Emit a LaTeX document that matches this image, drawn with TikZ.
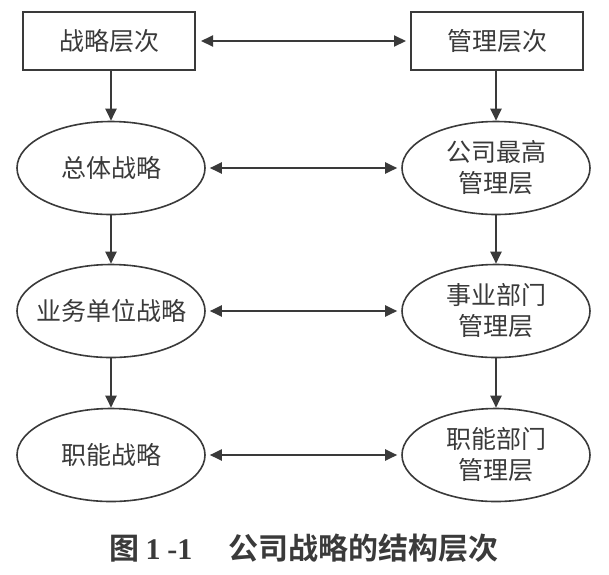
\documentclass[tikz,border=0pt]{standalone}
\usepackage{fontspec}
\setmainfont{Liberation Serif}
\newfontfamily\cjk{Noto Sans CJK SC}
\newfontfamily\cjkb{Noto Sans CJK SC Bold}
\usetikzlibrary{shapes.geometric,arrows.meta}
\definecolor{ink}{HTML}{3A3A3A}
\begin{document}
\begin{tikzpicture}[x=1pt,y=-1pt,
  every node/.style={text=ink,font=\cjk\fontsize{25}{31}\selectfont,align=center},
  boxnode/.style={draw=ink,line width=2pt,minimum width=172pt,minimum height=58pt,inner sep=0pt},
  ellnode/.style={ellipse,draw=ink,line width=1.6pt,minimum width=188pt,minimum height=93pt,inner sep=0pt},
  arr/.style={draw=ink,line width=2pt,-{Triangle[length=12pt,width=11pt]}},
  darr/.style={draw=ink,line width=2pt,{Triangle[length=12pt,width=11pt]}-{Triangle[length=12pt,width=11pt]}}]
\useasboundingbox (0,0) rectangle (609,574);
\fill[white] (0,0) rectangle (609,574);
\node[boxnode] (b1) at (109,41) {战略层次};
\node[boxnode] (b2) at (497,41) {管理层次};
\node[ellnode] (l1) at (111,168) {总体战略};
\node[ellnode] (r1) at (496,168) {公司最高\\管理层};
\node[ellnode] (l2) at (111,311) {\makebox[0pt][c]{业务单位战略}};
\node[ellnode] (r2) at (496,311) {事业部门\\管理层};
\node[ellnode] (l3) at (111,455) {职能战略};
\node[ellnode] (r3) at (496,455) {职能部门\\管理层};
\draw[darr] ([xshift=5pt]b1.east) -- ([xshift=-4pt]b2.west);
\draw[darr] ([xshift=4pt]l1.east) -- ([xshift=-4pt]r1.west);
\draw[darr] ([xshift=4pt]l2.east) -- ([xshift=-4pt]r2.west);
\draw[darr] ([xshift=4pt]l3.east) -- ([xshift=-4pt]r3.west);
\draw[arr] (b1.south -| l1.north) -- (l1.north);
\draw[arr] (b2.south -| r1.north) -- (r1.north);
\draw[arr] (l1.south) -- (l2.north);
\draw[arr] (r1.south) -- (r2.north);
\draw[arr] (l2.south) -- (l3.north);
\draw[arr] (r2.south) -- (r3.north);
\node[font=\fontsize{30}{32}\selectfont] (cap) at (304,548) {{\cjkb 图}\hspace{6pt}\textbf{1\hspace{7pt}-1}\hspace{36pt}{\cjkb 公司战略的结构层次}};
\end{tikzpicture}
\end{document}
